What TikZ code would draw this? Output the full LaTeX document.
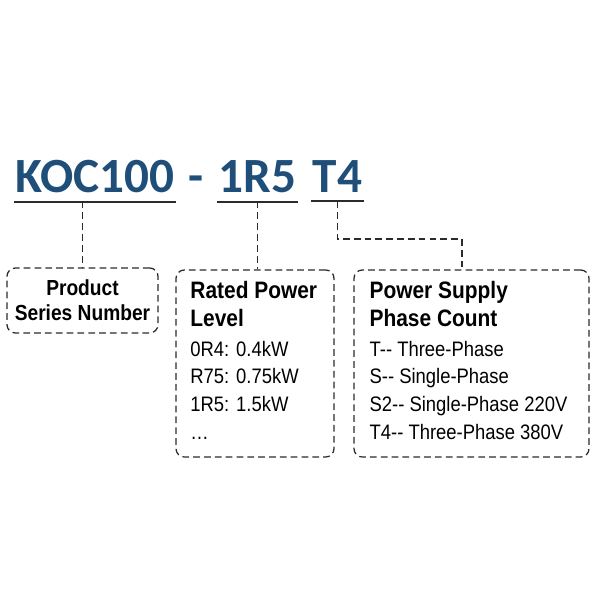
\documentclass[tikz,border=0pt]{standalone}
\usepackage{fontspec}
\usepackage{xcolor}
\usepackage{tikz}
\usetikzlibrary{positioning}
\newfontfamily\titlefont{Carlito}
\newfontfamily\condfont[FakeStretch=0.88]{Liberation Sans}
\definecolor{kocblue}{HTML}{1F4E79}
\definecolor{inkgray}{HTML}{2B2B2B}

\begin{document}
\begin{tikzpicture}[
  x=0.025cm, y=-0.025cm,
  code/.style={inner xsep=1pt, inner ysep=6.4pt, text=kocblue,
    font=\titlefont\bfseries\fontsize{35pt}{40pt}\selectfont},
  uline/.style={draw=inkgray, line width=1.3pt},
  dbox/.style={draw=inkgray, line width=0.9pt, dash pattern=on 4.8pt off 2.9pt,
    rounded corners=6pt, inner sep=0pt},
  link/.style={draw=inkgray, line width=0.9pt, dash pattern=on 4.8pt off 2.9pt},
  head/.style={inner sep=0pt, align=left,
    font=\condfont\bfseries\fontsize{16.9pt}{19.5pt}\selectfont},
  items/.style={inner sep=0pt, align=left,
    font=\condfont\fontsize{14.9pt}{19.7pt}\selectfont}]
  \useasboundingbox (0,0) rectangle (600,600);

  % model code
  \node[code, anchor=base west] (series) at (14,192) {KOC100};
  \node[code, anchor=base west] (sep) at (187,192) {-};
  \node[code, anchor=base west] (power) at (217,192) {1R5};
  \node[code, anchor=base west] (phase) at (311,192) {T4};
  \draw[uline] (series.south west) -- (series.south east);
  \draw[uline] (power.south west) -- (power.south east);
  \draw[uline] (phase.south west) -- (phase.south east);

  % boxes
  \node[dbox, minimum width=3.775cm, minimum height=1.625cm, align=center,
    font=\condfont\bfseries\fontsize{15.5pt}{17.8pt}\selectfont]
    (seriesbox) at (82.5,300.5) {Product\\Series Number};
  \node[dbox, minimum width=3.95cm, minimum height=4.675cm] (powerbox) at (255,363.5) {};
  \node[dbox, minimum width=5.875cm, minimum height=4.675cm] (phasebox) at (471.5,363.5) {};

  \node[head, below right=0.3cm and 0.37cm of powerbox.north west] (powerhead) {Rated Power\\Level};
  \node[items, below right=0.35cm and 0cm of powerhead.south west] (powerlist)
    {0R4: 0.4kW\\R75: 0.75kW\\1R5: 1.5kW\\…};
  \node[head, below right=0.3cm and 0.4cm of phasebox.north west] (phasehead) {Power Supply\\Phase Count};
  \node[items, below right=0.35cm and 0cm of phasehead.south west] (phaselist)
    {T-- Three-Phase\\S-- Single-Phase\\S2-- Single-Phase 220V\\T4-- Three-Phase 380V};

  % connectors
  \coordinate (bend) at (462,239);
  \draw[link] (seriesbox.north |- series.south) -- (seriesbox.north);
  \draw[link] (power.south) -- (power.south |- powerbox.north);
  \draw[link] (phase.south) |- (bend) -- (bend |- phasebox.north);
\end{tikzpicture}
\end{document}
